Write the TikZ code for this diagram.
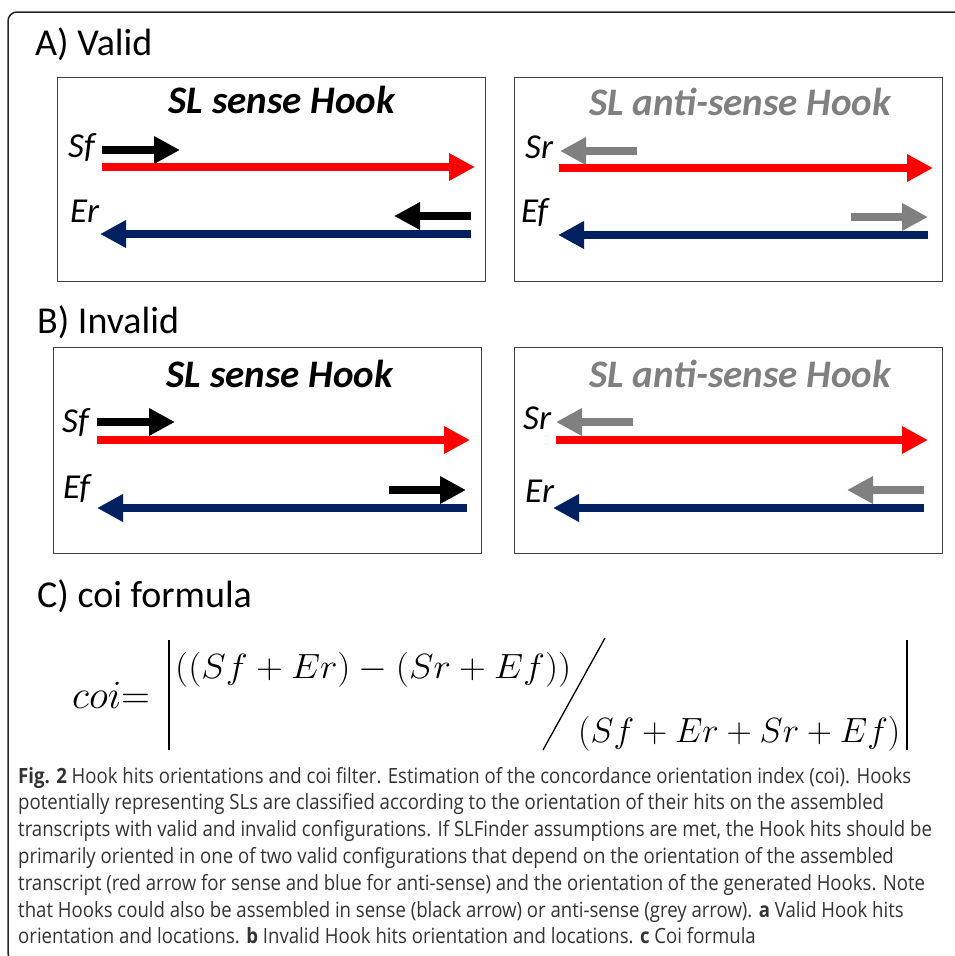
\documentclass[tikz,border=0pt]{standalone}
\usepackage{fix-cm}
\usepackage{fontspec}
\usepackage{graphicx}
\setmainfont{Carlito}
\newfontfamily\capfont[FakeStretch=0.885]{Open Sans}
\usetikzlibrary{arrows.meta}
\definecolor{transred}{HTML}{FF0000}
\definecolor{transblue}{HTML}{002060}
\definecolor{hookgrey}{HTML}{808080}

\begin{document}
\begin{tikzpicture}[x=1pt,y=-1pt,
  hookbox/.style={draw=black!75,line width=0.9pt,minimum width=428pt,inner sep=0pt},
  hit/.style={line width=8.5pt,-{Triangle[width=26pt,length=26pt]}},
  panelhead/.style={anchor=base west,inner sep=0pt,font=\fontsize{38pt}{40pt}\selectfont},
  hooktitle/.style={anchor=base,inner sep=0pt,font=\fontsize{39pt}{42pt}\selectfont\bfseries\itshape},
  hitlabel/.style={anchor=base west,inner sep=0pt,font=\fontsize{35pt}{38pt}\selectfont\itshape},
  mathpart/.style={anchor=base west,inner sep=0pt,font=\fontsize{35pt}{40pt}\selectfont}]
  \useasboundingbox (0,0) rectangle (955,956);
  \clip (0,0) rectangle (955,956);
  \draw[line width=1.5pt,black!85,rounded corners=9pt] (962,12) -- (8,12) -- (8,962) -- (40,962);

  \node[panelhead] (headA) at (35,55) {A) Valid};
  \node[hookbox,minimum height=204pt] (validsense) at (271,179) {};
  \node[hookbox,minimum height=204pt] (validanti) at (728,179) {};
  \node[hooktitle] (tvalidsense) at (282,113) {SL sense Hook};
  \node[hooktitle,text=hookgrey] (tvalidanti) at (740,115) {SL anti-sense Hook};
  \node[hitlabel] (sfA) at (68,157) {Sf};
  \node[hitlabel] (erA) at (70,222) {Er};
  \node[hitlabel] (srA) at (525,158) {Sr};
  \node[hitlabel] (efA) at (521,222) {Ef};
  \draw[hit,black] (102,150) -- (180,150);
  \draw[hit,transred] (102,167) -- (475,167);
  \draw[hit,black] (471,216) -- (394,216);
  \draw[hit,transblue] (471,234) -- (100,234);
  \draw[hit,hookgrey] (637,151) -- (560,151);
  \draw[hit,transred] (559,168) -- (933,168);
  \draw[hit,hookgrey] (851,217) -- (928,217);
  \draw[hit,transblue] (928,235) -- (558,235);

  \node[panelhead] (headB) at (37,333) {B) Invalid};
  \node[hookbox,minimum height=206pt] (invalidsense) at (267,450) {};
  \node[hookbox,minimum height=206pt] (invalidanti) at (728,450) {};
  \node[hooktitle] (tinvalidsense) at (280,387) {SL sense Hook};
  \node[hooktitle,text=hookgrey] (tinvalidanti) at (740,387) {SL anti-sense Hook};
  \node[hitlabel] (sfB) at (62,432) {Sf};
  \node[hitlabel] (efB) at (63,498) {Ef};
  \node[hitlabel] (srB) at (523,429) {Sr};
  \node[hitlabel] (erB) at (525,502) {Er};
  \draw[hit,black] (97,422) -- (175,422);
  \draw[hit,transred] (97,440) -- (470,440);
  \draw[hit,black] (389,490) -- (466,490);
  \draw[hit,transblue] (467,508) -- (97,508);
  \draw[hit,hookgrey] (633,422) -- (556,422);
  \draw[hit,transred] (556,440) -- (928,440);
  \draw[hit,hookgrey] (924,490) -- (847,490);
  \draw[hit,transblue] (924,508) -- (553,508);

  \node[panelhead] (headC) at (37,607) {C) coi formula};
  \node[mathpart,font=\fontsize{40pt}{44pt}\selectfont] (coi) at (72,708) {$coi{=}$};
  \draw[line width=1.6pt] (169,640) -- (169,750);
  \node[mathpart] (numer) at (175,678) {\scalebox{1.06}[1]{$((Sf+Er)-(Sr+Ef))$}};
  \draw[line width=1.3pt] (543,750) -- (605,638);
  \node[mathpart] (denom) at (578,742) {$(Sf+Er+Sr+Ef)$};
  \draw[line width=1.6pt] (907,640) -- (907,750);

  \foreach \capline [count=\i] in {
    {\textbf{Fig. 2} Hook hits orientations and coi filter. Estimation of the concordance orientation index (coi). Hooks},
    {potentially representing SLs are classified according to the orientation of their hits on the assembled},
    {transcripts with valid and invalid configurations. If SLFinder assumptions are met, the Hook hits should be},
    {primarily oriented in one of two valid configurations that depend on the orientation of the assembled},
    {transcript (red arrow for sense and blue for anti-sense) and the orientation of the generated Hooks. Note},
    {that Hooks could also be assembled in sense (black arrow) or anti-sense (grey arrow). \textbf{a} Valid Hook hits},
    {orientation and locations. \textbf{b} Invalid Hook hits orientation and locations. \textbf{c} Coi formula}}
    \node[anchor=base west,inner sep=0pt,text=black!80,font=\capfont\fontsize{21pt}{24pt}\selectfont] (caption\i) at (18,{783+26.8*(\i-1)}) {\capline};
\end{tikzpicture}
\end{document}
